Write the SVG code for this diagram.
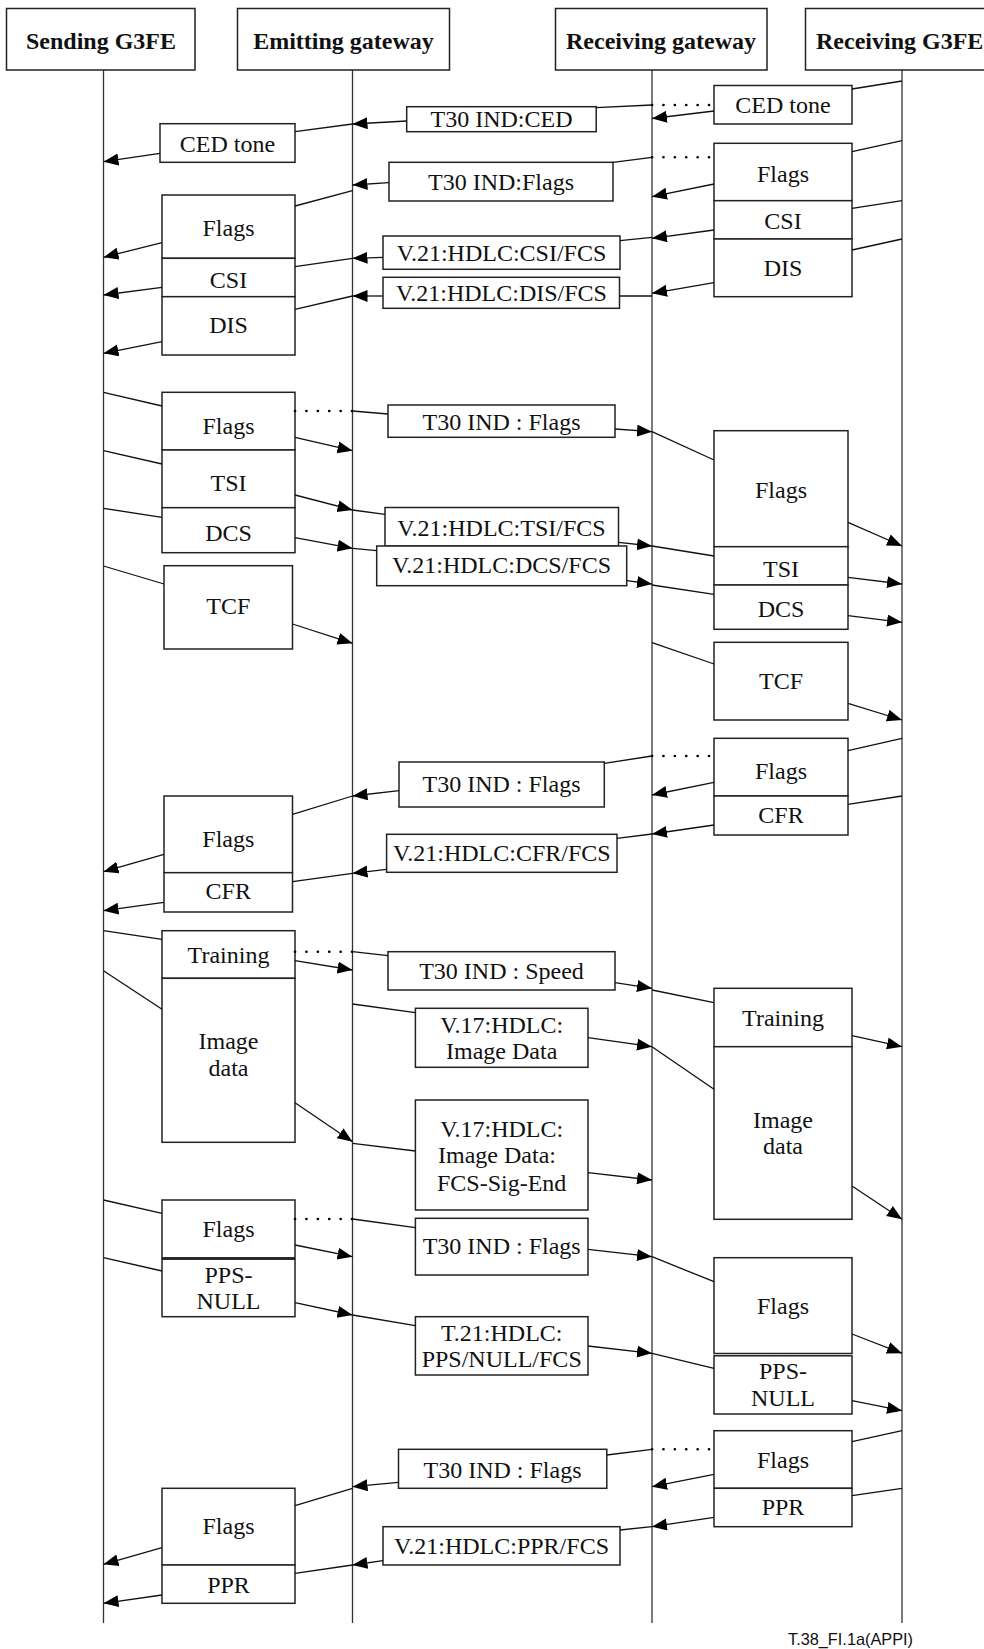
<svg xmlns="http://www.w3.org/2000/svg" width="984" height="1649" viewBox="0 0 984 1649">
<defs>
<marker id="ah" markerUnits="userSpaceOnUse" markerWidth="16" markerHeight="13" refX="15" refY="6" orient="auto">
<path d="M0,0 L15,6 L0,12 z" fill="#000"/>
</marker>
<style>
.b{fill:#fff;stroke:#222;stroke-width:1.5}
.t{font-family:"Liberation Serif","Times New Roman",serif;font-size:24px;fill:#111;text-anchor:middle}
.h{font-family:"Liberation Serif","Times New Roman",serif;font-size:24px;font-weight:bold;fill:#111;text-anchor:middle}
.l{stroke:#111;stroke-width:1.3;fill:none}
.a{stroke:#111;stroke-width:1.3;fill:none;marker-end:url(#ah)}
.d{stroke:#000;stroke-width:2.6;fill:none;stroke-linecap:round;stroke-dasharray:0.1 11.3}
.ll{stroke:#333;stroke-width:1.3}
</style>
</defs>
<rect width="984" height="1649" fill="#fff"/>

<g id="lifelines">
<line class="ll" x1="103.5" y1="70" x2="103.5" y2="1623"/>
<line class="ll" x1="352.5" y1="70" x2="352.5" y2="1623"/>
<line class="ll" x1="652" y1="70" x2="652" y2="1623"/>
<line class="ll" x1="902" y1="70" x2="902" y2="1623"/>
</g>

<g id="hdr-sending"><rect class="b" x="6.5" y="8.5" width="188.5" height="61.5"/><text class="h" x="101" y="48.5">Sending G3FE</text></g>
<g id="hdr-emitting"><rect class="b" x="237.5" y="8.5" width="212" height="61.5"/><text class="h" x="343.5" y="48.5">Emitting gateway</text></g>
<g id="hdr-recvgw"><rect class="b" x="555.5" y="8.5" width="211.5" height="61.5"/><text class="h" x="661" y="48.5">Receiving gateway</text></g>
<g id="hdr-recvg3fe"><rect class="b" x="805.5" y="8.5" width="190" height="61.5"/><text class="h" x="816" y="48.5" style="text-anchor:start">Receiving G3FE</text></g>

<!-- Group 1: CED -->
<g id="r-ced"><rect class="b" x="714" y="85.5" width="138" height="38.5"/><text class="t" x="783" y="112.5">CED tone</text></g>
<g id="m-t30ced"><rect class="b" x="406.7" y="106.7" width="189.5" height="25"/><text class="t" x="501.5" y="127">T30 IND:CED</text></g>
<g id="l-ced"><rect class="b" x="160" y="123.7" width="135" height="38.6"/><text class="t" x="227.5" y="151.5">CED tone</text></g>

<!-- Group 2 -->
<g id="r-flags-csi-dis">
<rect class="b" x="714" y="143.3" width="138" height="57.4"/>
<rect class="b" x="714" y="200.7" width="138" height="38.3"/>
<rect class="b" x="714" y="239" width="138" height="57.7"/>
<text class="t" x="783" y="182">Flags</text><text class="t" x="783" y="229">CSI</text><text class="t" x="783" y="276">DIS</text>
</g>
<g id="m-t30flags1"><rect class="b" x="389" y="162.3" width="224" height="38.7"/><text class="t" x="501" y="189.5">T30 IND:Flags</text></g>
<g id="m-csi"><rect class="b" x="383" y="236" width="237" height="33.3"/><text class="t" x="501.5" y="260.5">V.21:HDLC:CSI/FCS</text></g>
<g id="m-dis"><rect class="b" x="383" y="277.3" width="236.5" height="31"/><text class="t" x="501.5" y="301">V.21:HDLC:DIS/FCS</text></g>
<g id="l-flags-csi-dis">
<rect class="b" x="162" y="195" width="133" height="63.3"/>
<rect class="b" x="162" y="258.3" width="133" height="38.4"/>
<rect class="b" x="162" y="296.7" width="133" height="58.3"/>
<text class="t" x="228.5" y="236">Flags</text><text class="t" x="228.5" y="287.5">CSI</text><text class="t" x="228.5" y="333">DIS</text>
</g>

<!-- Group 3 -->
<g id="l-flags-tsi-dcs">
<rect class="b" x="162" y="392.3" width="133" height="57.7"/>
<rect class="b" x="162" y="450" width="133" height="57.7"/>
<rect class="b" x="162" y="507.7" width="133" height="45"/>
<text class="t" x="228.5" y="434">Flags</text><text class="t" x="228.5" y="491">TSI</text><text class="t" x="228.5" y="541">DCS</text>
</g>
<g id="m-t30flags2"><rect class="b" x="388" y="405" width="227" height="32.3"/><text class="t" x="501.5" y="430">T30 IND : Flags</text></g>
<g id="m-tsi"><rect class="b" x="385" y="507.5" width="233.5" height="38.5"/><text class="t" x="501.5" y="535.5">V.21:HDLC:TSI/FCS</text></g>
<g id="m-dcs"><rect class="b" x="376.7" y="546" width="250" height="39.7"/><text class="t" x="501.5" y="572.7">V.21:HDLC:DCS/FCS</text></g>
<g id="r-flags-tsi-dcs">
<rect class="b" x="714" y="430.7" width="134" height="116"/>
<rect class="b" x="714" y="546.7" width="134" height="38.3"/>
<rect class="b" x="714" y="585" width="134" height="44.3"/>
<text class="t" x="781" y="497.5">Flags</text><text class="t" x="781" y="577">TSI</text><text class="t" x="781" y="617">DCS</text>
</g>
<g id="l-tcf"><rect class="b" x="164" y="565.7" width="128.5" height="83.3"/><text class="t" x="228.3" y="614">TCF</text></g>
<g id="r-tcf"><rect class="b" x="714" y="642.3" width="134" height="77.7"/><text class="t" x="781" y="689">TCF</text></g>

<!-- Group 4 -->
<g id="r-flags-cfr">
<rect class="b" x="714" y="738.3" width="134" height="57.7"/>
<rect class="b" x="714" y="796" width="134" height="39"/>
<text class="t" x="781" y="778.5">Flags</text><text class="t" x="781" y="822.5">CFR</text>
</g>
<g id="m-t30flags3"><rect class="b" x="399" y="762" width="205.3" height="45"/><text class="t" x="501.5" y="791.5">T30 IND : Flags</text></g>
<g id="m-cfr"><rect class="b" x="386.6" y="834.3" width="230.4" height="38"/><text class="t" x="501.8" y="861">V.21:HDLC:CFR/FCS</text></g>
<g id="l-flags-cfr">
<rect class="b" x="164" y="796" width="128.5" height="76.7"/>
<rect class="b" x="164" y="872.7" width="128.5" height="39.3"/>
<text class="t" x="228.3" y="847">Flags</text><text class="t" x="228.3" y="899">CFR</text>
</g>

<!-- Group 5 -->
<g id="l-training-image">
<rect class="b" x="162" y="930.7" width="133" height="47.6"/>
<rect class="b" x="162" y="978.3" width="133" height="164"/>
<text class="t" x="228.5" y="963">Training</text>
<text class="t" x="228.5" y="1049">Image</text><text class="t" x="228.5" y="1076">data</text>
</g>
<g id="m-speed"><rect class="b" x="388" y="951.7" width="227" height="38.3"/><text class="t" x="501.5" y="979">T30 IND : Speed</text></g>
<g id="m-v17a"><rect class="b" x="415.4" y="1008.3" width="172.6" height="59"/><text class="t" x="501.7" y="1032.5">V.17:HDLC:</text><text class="t" x="501.7" y="1059">Image Data</text></g>
<g id="m-v17b"><rect class="b" x="415.4" y="1100" width="172.6" height="110"/><text class="t" x="501.7" y="1136.5">V.17:HDLC:</text><text class="t" x="497" y="1163">Image Data:</text><text class="t" x="501.7" y="1191">FCS-Sig-End</text></g>
<g id="r-training-image">
<rect class="b" x="714" y="988.3" width="138" height="58.4"/>
<rect class="b" x="714" y="1046.7" width="138" height="172.6"/>
<text class="t" x="783" y="1026">Training</text>
<text class="t" x="783" y="1127.5">Image</text><text class="t" x="783" y="1154">data</text>
</g>

<!-- Group 6 -->
<g id="l-flags-pps">
<rect class="b" x="162" y="1200" width="133" height="58"/>
<rect class="b" x="162" y="1259" width="133" height="57.7"/>
<line x1="162" y1="1258.5" x2="295" y2="1258.5" stroke="#222" stroke-width="2.5"/>
<text class="t" x="228.5" y="1237">Flags</text>
<text class="t" x="228.5" y="1282.5">PPS-</text><text class="t" x="228.5" y="1309">NULL</text>
</g>
<g id="m-t30flags4"><rect class="b" x="415.4" y="1218.3" width="172.6" height="56.7"/><text class="t" x="501.7" y="1254">T30 IND : Flags</text></g>
<g id="m-pps"><rect class="b" x="415.4" y="1316.7" width="172.6" height="58.3"/><text class="t" x="501.7" y="1341">T.21:HDLC:</text><text class="t" x="501.7" y="1367">PPS/NULL/FCS</text></g>
<g id="r-flags-pps">
<rect class="b" x="714" y="1257.7" width="138" height="95.8"/>
<rect class="b" x="714" y="1355.8" width="138" height="58.2"/>
<text class="t" x="783" y="1314">Flags</text>
<text class="t" x="783" y="1379">PPS-</text><text class="t" x="783" y="1406">NULL</text>
</g>

<!-- Group 7 -->
<g id="r-flags-ppr">
<rect class="b" x="714" y="1430.7" width="138" height="57.6"/>
<rect class="b" x="714" y="1488.3" width="138" height="38.4"/>
<text class="t" x="783" y="1467.5">Flags</text><text class="t" x="783" y="1515">PPR</text>
</g>
<g id="m-t30flags5"><rect class="b" x="398.5" y="1449.3" width="208.3" height="39"/><text class="t" x="502.5" y="1477.5">T30 IND : Flags</text></g>
<g id="m-ppr"><rect class="b" x="383" y="1526.7" width="237" height="38.3"/><text class="t" x="501.5" y="1554">V.21:HDLC:PPR/FCS</text></g>
<g id="l-flags-ppr">
<rect class="b" x="162" y="1488.3" width="133" height="76.7"/>
<rect class="b" x="162" y="1565" width="133" height="38.3"/>
<text class="t" x="228.5" y="1534">Flags</text><text class="t" x="228.5" y="1592.5">PPR</text>
</g>

<g id="connectors">
<!-- G1 -->
<line class="l" x1="902" y1="81" x2="852" y2="89"/>
<line class="a" x1="714" y1="111" x2="652" y2="118.5"/>
<line class="d" x1="652" y1="105" x2="714" y2="105"/>
<line class="l" x1="652" y1="105" x2="596.2" y2="107.7"/>
<line class="a" x1="406.7" y1="121" x2="352.5" y2="124"/>
<line class="l" x1="352.5" y1="124" x2="295" y2="131.7"/>
<line class="a" x1="160" y1="153.3" x2="103.5" y2="161.7"/>
<!-- G2 -->
<line class="l" x1="902" y1="140.7" x2="852" y2="151.7"/>
<line class="l" x1="902" y1="200.7" x2="852" y2="208.3"/>
<line class="l" x1="902" y1="239" x2="852" y2="250"/>
<line class="a" x1="714" y1="184" x2="652" y2="196.7"/>
<line class="a" x1="714" y1="230" x2="652" y2="238.3"/>
<line class="a" x1="714" y1="282.7" x2="652" y2="293.3"/>
<line class="d" x1="652" y1="157.3" x2="714" y2="157.3"/>
<line class="l" x1="652" y1="157.3" x2="613" y2="162.3"/>
<line class="a" x1="389" y1="182.7" x2="352.5" y2="185"/>
<line class="l" x1="352.5" y1="190.7" x2="295" y2="206"/>
<line class="a" x1="162" y1="242.7" x2="103.5" y2="257.3"/>
<line class="a" x1="162" y1="287.3" x2="103.5" y2="295"/>
<line class="a" x1="162" y1="341.7" x2="103.5" y2="353.3"/>
<line class="l" x1="652" y1="237.3" x2="620" y2="240.7"/>
<line class="a" x1="383" y1="257.3" x2="352.5" y2="258.3"/>
<line class="l" x1="352.5" y1="258.3" x2="295" y2="266.7"/>
<line class="l" x1="652" y1="296" x2="619.5" y2="296"/>
<line class="a" x1="383" y1="296" x2="352.5" y2="296"/>
<line class="l" x1="352.5" y1="296" x2="295" y2="309.3"/>
<!-- G3 -->
<line class="l" x1="103.5" y1="392.3" x2="162" y2="406"/>
<line class="l" x1="103.5" y1="450.7" x2="162" y2="464"/>
<line class="l" x1="103.5" y1="508.3" x2="162" y2="517.3"/>
<line class="a" x1="295" y1="437.3" x2="352.5" y2="450.7"/>
<line class="a" x1="295" y1="495" x2="352.5" y2="510"/>
<line class="a" x1="295" y1="537.7" x2="352.5" y2="548.3"/>
<line class="d" x1="295" y1="411" x2="352.5" y2="411"/>
<line class="l" x1="352.5" y1="411" x2="388" y2="414"/>
<line class="a" x1="615" y1="429" x2="652" y2="431.7"/>
<line class="l" x1="652" y1="431.7" x2="714" y2="460"/>
<line class="a" x1="848" y1="522.3" x2="902" y2="546"/>
<line class="a" x1="848" y1="577.3" x2="902" y2="584"/>
<line class="a" x1="848" y1="615.7" x2="902" y2="622.3"/>
<line class="l" x1="352.5" y1="510" x2="385" y2="514.3"/>
<line class="a" x1="618.5" y1="542.3" x2="652" y2="546"/>
<line class="l" x1="652" y1="546" x2="714" y2="556"/>
<line class="l" x1="352.5" y1="548.3" x2="376.7" y2="550.7"/>
<line class="a" x1="626.7" y1="580.7" x2="652" y2="584"/>
<line class="l" x1="652" y1="585" x2="714" y2="594.3"/>
<line class="l" x1="103.5" y1="566" x2="164" y2="584"/>
<line class="a" x1="292.5" y1="624" x2="352.5" y2="643.3"/>
<line class="l" x1="652" y1="642.7" x2="714" y2="664"/>
<line class="a" x1="848" y1="703.3" x2="902" y2="720"/>
<!-- G4 -->
<line class="l" x1="902" y1="738.3" x2="848" y2="750.7"/>
<line class="l" x1="902" y1="796" x2="848" y2="804.3"/>
<line class="a" x1="714" y1="782.3" x2="652" y2="795"/>
<line class="a" x1="714" y1="825" x2="652" y2="834"/>
<line class="d" x1="652" y1="756" x2="714" y2="756"/>
<line class="l" x1="652" y1="756" x2="604.3" y2="763.3"/>
<line class="a" x1="399" y1="790.7" x2="352.5" y2="796"/>
<line class="l" x1="352.5" y1="796" x2="292.5" y2="814.3"/>
<line class="a" x1="164" y1="854.3" x2="103.5" y2="871.7"/>
<line class="a" x1="164" y1="902.3" x2="103.5" y2="910.7"/>
<line class="l" x1="652" y1="834" x2="617" y2="838.3"/>
<line class="a" x1="386.6" y1="869.3" x2="352.5" y2="873.3"/>
<line class="l" x1="352.5" y1="873.3" x2="292.5" y2="881.7"/>
<!-- G5 -->
<line class="l" x1="103.5" y1="930.7" x2="162" y2="939.3"/>
<line class="d" x1="295" y1="951.7" x2="352.5" y2="951.7"/>
<line class="l" x1="352.5" y1="951.7" x2="388" y2="955.7"/>
<line class="a" x1="295" y1="960.7" x2="352.5" y2="970"/>
<line class="a" x1="615" y1="982.7" x2="652" y2="988.3"/>
<line class="l" x1="103.5" y1="970.7" x2="162" y2="1009.3"/>
<line class="a" x1="295" y1="1102.7" x2="352.5" y2="1141.7"/>
<line class="l" x1="352.5" y1="1004" x2="415.4" y2="1012.7"/>
<line class="a" x1="588" y1="1037.7" x2="652" y2="1046.7"/>
<line class="l" x1="652" y1="1046.7" x2="714" y2="1089.3"/>
<line class="l" x1="652" y1="990" x2="714" y2="1002.7"/>
<line class="a" x1="852" y1="1035.7" x2="902" y2="1046.7"/>
<line class="a" x1="852" y1="1186" x2="902" y2="1219.3"/>
<line class="l" x1="352.5" y1="1143.3" x2="415.4" y2="1151"/>
<line class="a" x1="588" y1="1172.7" x2="652" y2="1180"/>
<!-- G6 -->
<line class="l" x1="103.5" y1="1200" x2="162" y2="1213.3"/>
<line class="l" x1="103.5" y1="1257.7" x2="162" y2="1271"/>
<line class="d" x1="295" y1="1219" x2="352.5" y2="1219"/>
<line class="l" x1="352.5" y1="1219" x2="415.4" y2="1227.7"/>
<line class="a" x1="295" y1="1245" x2="352.5" y2="1256.7"/>
<line class="a" x1="295" y1="1302.7" x2="352.5" y2="1315"/>
<line class="a" x1="588" y1="1249.3" x2="652" y2="1256.7"/>
<line class="l" x1="652" y1="1256.7" x2="714" y2="1281.7"/>
<line class="l" x1="352.5" y1="1315" x2="415.4" y2="1325.7"/>
<line class="a" x1="588" y1="1346" x2="652" y2="1353.3"/>
<line class="l" x1="652" y1="1353.3" x2="714" y2="1368.3"/>
<line class="a" x1="852" y1="1334" x2="902" y2="1353.3"/>
<line class="a" x1="852" y1="1400.7" x2="902" y2="1410.7"/>
<!-- G7 -->
<line class="l" x1="902" y1="1430.7" x2="852" y2="1441.7"/>
<line class="l" x1="902" y1="1488.3" x2="852" y2="1495.7"/>
<line class="a" x1="714" y1="1474.3" x2="652" y2="1486.7"/>
<line class="a" x1="714" y1="1517.3" x2="652" y2="1526.7"/>
<line class="d" x1="652" y1="1449.3" x2="714" y2="1449.3"/>
<line class="l" x1="652" y1="1449.3" x2="606.8" y2="1455"/>
<line class="a" x1="398.5" y1="1482.3" x2="352.5" y2="1486.7"/>
<line class="l" x1="352.5" y1="1488.3" x2="295" y2="1505.7"/>
<line class="a" x1="162" y1="1547.7" x2="103.5" y2="1564.3"/>
<line class="a" x1="162" y1="1595" x2="103.5" y2="1603.3"/>
<line class="l" x1="652" y1="1526.7" x2="620" y2="1530"/>
<line class="a" x1="383" y1="1560.7" x2="352.5" y2="1565"/>
<line class="l" x1="352.5" y1="1565" x2="295" y2="1573.3"/>
</g>

<text x="788" y="1645" font-family="'Liberation Sans',Arial,sans-serif" font-size="17" fill="#111" textLength="125" lengthAdjust="spacingAndGlyphs">T.38_FI.1a(APPI)</text>
</svg>
